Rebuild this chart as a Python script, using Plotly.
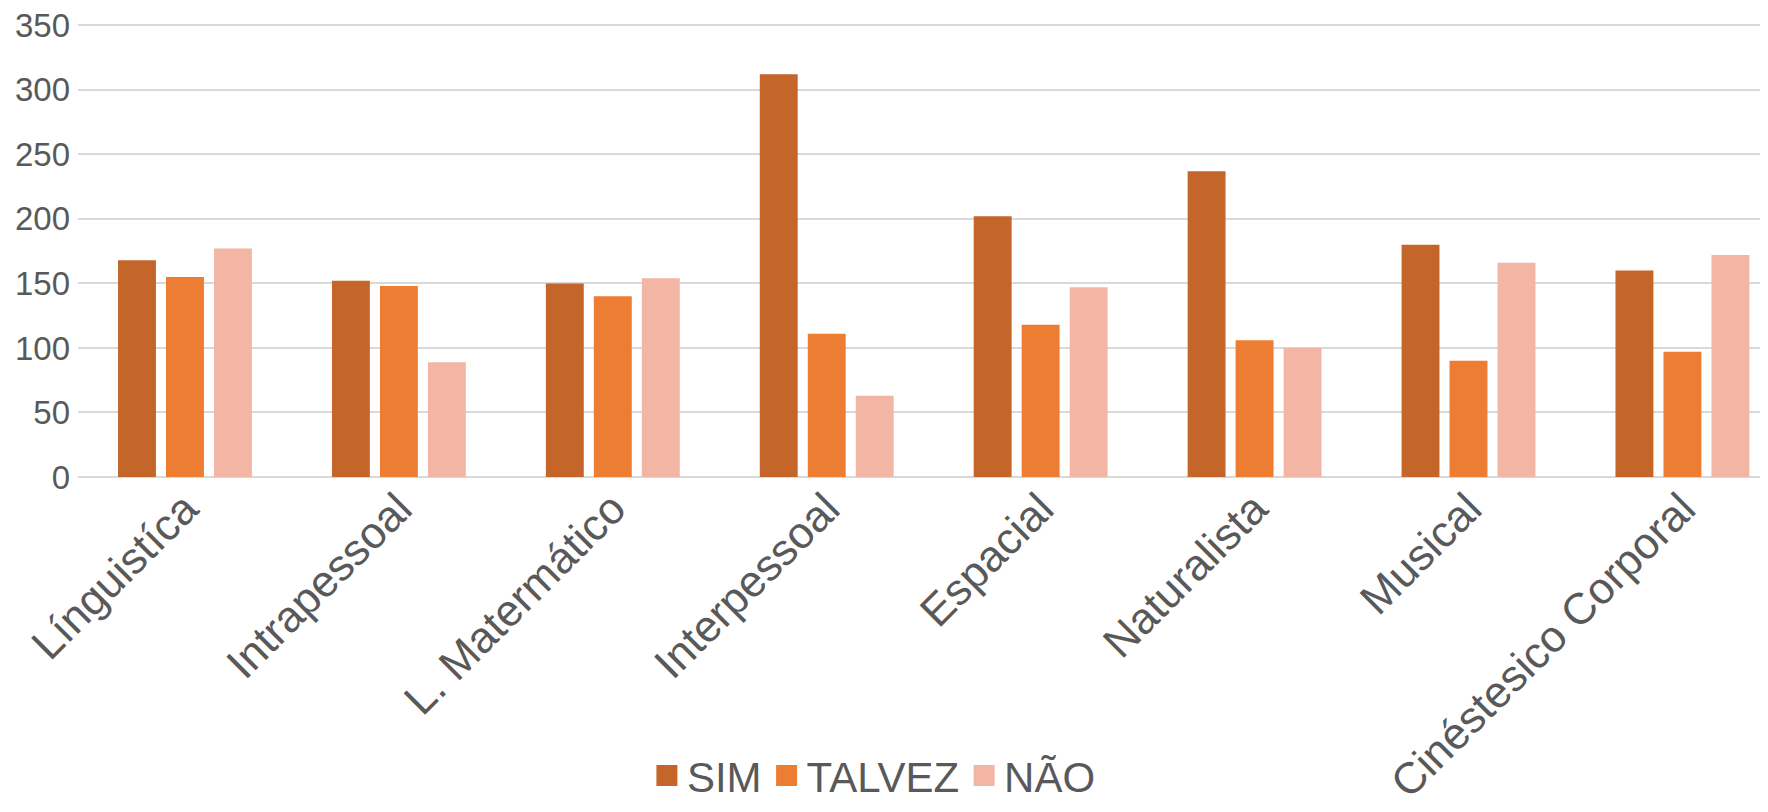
import plotly.graph_objects as go

categories = ["Línguistíca", "Intrapessoal", "L. Matermático", "Interpessoal",
              "Espacial", "Naturalista", "Musical", "Cinéstesico Corporal"]
sim = [168, 152, 150, 312, 202, 237, 180, 160]
talvez = [155, 148, 140, 111, 118, 106, 90, 97]
nao = [177, 89, 154, 63, 147, 100, 166, 172]
y_ticks = [0, 50, 100, 150, 200, 250, 300, 350]

series = [("SIM", sim, "#C4652A"), ("TALVEZ", talvez, "#EC7D33"), ("NÃO", nao, "#F3B6A4")]

fig = go.Figure()
for name, vals, col in series:
    fig.add_trace(go.Bar(x=categories, y=vals, name=name, marker_color=col,
                         marker_line_width=0, showlegend=False))
# legend-only entries with larger square swatches
for name, vals, col in series:
    fig.add_trace(go.Scatter(x=[None], y=[None], name=name, mode="markers",
                             marker=dict(symbol="square", size=16, color=col,
                                         line=dict(color=col, width=5))))

# page body has an 8px margin, so the figure is 8px smaller than the window
fig.update_layout(
    width=1760, height=804,
    margin=dict(l=70, r=0, t=16, b=335),
    paper_bgcolor="white", plot_bgcolor="white",
    barmode="group", bargap=0.327, bargroupgap=0.21,
    font=dict(family="Liberation Sans, Arial, sans-serif", color="#595959"),
    showlegend=True,
    legend=dict(orientation="h", xref="container", yref="container",
                x=0.492, xanchor="center", y=0.045, yanchor="middle",
                font=dict(size=42, color="#595959"), itemclick=False,
                itemwidth=30, tracegroupgap=0),
    xaxis=dict(range=[-0.5, 7.4], tickangle=-45, tickfont=dict(size=44, color="#595959"),
               showgrid=False, showline=False, ticks="", automargin=False,
               ticklabelstandoff=-4),
    yaxis=dict(range=[0, 351], tickvals=y_ticks, tickfont=dict(size=33, color="#595959"),
               showgrid=True, gridcolor="#D9D9D9", gridwidth=1.5,
               zeroline=True, zerolinecolor="#D9D9D9", zerolinewidth=1.5,
               showline=False, ticks="", automargin=False, ticklabelstandoff=7,
               ticklabeloverflow="allow"),
)

fig.write_html("out.html")
